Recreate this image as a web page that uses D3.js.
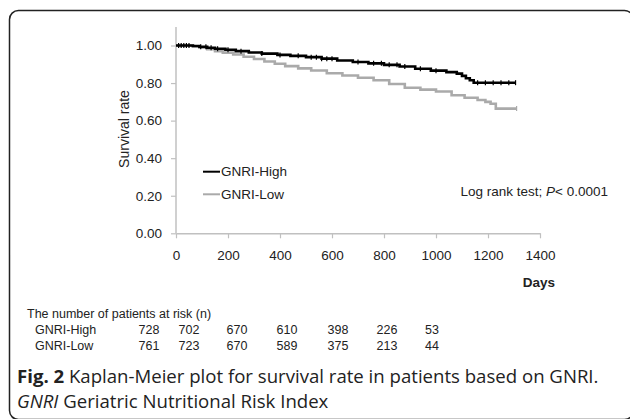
<!DOCTYPE html>
<html>
<head>
<meta charset="utf-8">
<script src="https://cdn.jsdelivr.net/npm/d3@7"></script>
<style>
  body { margin: 0; background: #fff; }
  svg { display: block; }
</style>
</head>
<body>
<div id="km_chart"></div>
<script>
// Kaplan-Meier step points (days, survival)
const highDays = [0, 65, 90, 120, 150, 190, 230, 280, 330, 390, 440, 500, 560, 620, 680, 740, 800, 860, 920, 980, 1040, 1080, 1100, 1115, 1130, 1145, 1306];
const highSurv = [1.0, 0.997, 0.993, 0.988, 0.983, 0.977, 0.970, 0.963, 0.957, 0.950, 0.945, 0.938, 0.930, 0.920, 0.912, 0.905, 0.897, 0.888, 0.876, 0.866, 0.858, 0.850, 0.838, 0.826, 0.815, 0.802, 0.802];
const lowDays = [0, 65, 90, 120, 150, 180, 220, 260, 300, 340, 380, 420, 470, 520, 580, 640, 700, 760, 820, 880, 940, 1000, 1060, 1110, 1160, 1190, 1210, 1230, 1310];
const lowSurv = [1.0, 0.995, 0.988, 0.980, 0.970, 0.962, 0.952, 0.940, 0.928, 0.915, 0.903, 0.890, 0.878, 0.867, 0.852, 0.840, 0.828, 0.815, 0.795, 0.775, 0.765, 0.755, 0.735, 0.722, 0.710, 0.700, 0.690, 0.664, 0.664];
// censor marks (days)
const highCensor = [10, 20, 30, 40, 50, 95, 115, 135, 160, 200, 250, 330, 400, 470, 520, 540, 560, 580, 600, 700, 760, 790, 820, 850, 880, 940, 1000, 1160, 1190, 1220, 1250, 1280, 1306];
const lowCensor = [1310];

const seriesNames = ["GNRI-High", "GNRI-Low"];
const riskDays = [0, 200, 400, 600, 800, 1000, 1200];
const riskHigh = [728, 702, 670, 610, 398, 226, 53];
const riskLow = [761, 723, 670, 589, 375, 213, 44];
const yTicks = [0, 0.2, 0.4, 0.6, 0.8, 1.0];
const xTicks = [0, 200, 400, 600, 800, 1000, 1200, 1400];

const W = 630, H = 419;
const svg = d3.select("#km_chart").append("svg")
  .attr("width", W).attr("height", H)
  .style("font-family", "'Liberation Sans', Arial, sans-serif");

// outer frame with rounded corners
svg.append("rect")
  .attr("x", 9.5).attr("y", 10.5)
  .attr("width", 624).attr("height", 409)
  .attr("rx", 9)
  .attr("fill", "none").attr("stroke", "#222").attr("stroke-width", 1.5);

const x = d3.scaleLinear().domain([0, 1400]).range([176, 540]);
const y = d3.scaleLinear().domain([0, 1]).range([233.3, 45.5]);

// axes
const xAxis = svg.append("g")
  .attr("transform", `translate(0, ${y(0)})`)
  .call(d3.axisBottom(x).tickValues(xTicks).tickFormat(d3.format("d")).tickSize(5).tickSizeOuter(0).tickPadding(12));
const yAxis = svg.append("g")
  .attr("transform", `translate(${x(0)}, 0)`)
  .call(d3.axisLeft(y).tickValues(yTicks).tickFormat(d3.format(".2f")).tickSize(5).tickSizeOuter(0).tickPadding(9));
yAxis.select(".domain").attr("d", `M0,${y(0)}V27`);
[xAxis, yAxis].forEach(g => {
  g.select(".domain").attr("stroke", "#c0c0c0").attr("stroke-width", 1.5);
  g.selectAll(".tick line").attr("stroke", "#c0c0c0").attr("stroke-width", 1.2);
  g.selectAll(".tick text").attr("fill", "#222").style("font-size", "13.5px")
    .style("font-family", "'Liberation Sans', Arial, sans-serif");
});

// step lines
const line = d3.line()
  .x(d => x(d[0]))
  .y(d => y(d[1]))
  .curve(d3.curveStepAfter);

const lowPts = lowDays.map((d, i) => [d, lowSurv[i]]);
const highPts = highDays.map((d, i) => [d, highSurv[i]]);

svg.append("path").attr("d", line(lowPts))
  .attr("fill", "none").attr("stroke", "#aaaaaa").attr("stroke-width", 2.6);
svg.append("path").attr("d", line(highPts))
  .attr("fill", "none").attr("stroke", "#000").attr("stroke-width", 2.6);

function survAt(days, surv, t) {
  let v = surv[0];
  for (let i = 0; i < days.length; i++) if (days[i] <= t) v = surv[i];
  return v;
}
svg.append("g").selectAll("line").data(highCensor).join("line")
  .attr("x1", d => x(d)).attr("x2", d => x(d))
  .attr("y1", d => y(survAt(highDays, highSurv, d)) - 2.5)
  .attr("y2", d => y(survAt(highDays, highSurv, d)) + 2.5)
  .attr("stroke", "#000").attr("stroke-width", 1.2);
svg.append("g").selectAll("line").data(lowCensor).join("line")
  .attr("x1", d => x(d)).attr("x2", d => x(d))
  .attr("y1", d => y(survAt(lowDays, lowSurv, d)) - 2.5)
  .attr("y2", d => y(survAt(lowDays, lowSurv, d)) + 2.5)
  .attr("stroke", "#aaaaaa").attr("stroke-width", 1.2);

// axis titles
svg.append("text")
  .attr("transform", `translate(129, 129) rotate(-90)`)
  .attr("text-anchor", "middle")
  .style("font-size", "14px").attr("fill", "#222")
  .text("Survival rate");
svg.append("text")
  .attr("x", 539).attr("y", 287)
  .attr("text-anchor", "middle")
  .style("font-size", "13.5px").style("font-weight", "bold").attr("fill", "#222")
  .text("Days");

// legend
const legendColors = ["#000", "#aaaaaa"];
const legend = svg.append("g").selectAll("g").data(seriesNames).join("g")
  .attr("transform", (d, i) => `translate(203, ${171.7 + i * 22.6})`);
legend.append("line")
  .attr("x1", 0).attr("x2", 17)
  .attr("stroke", (d, i) => legendColors[i]).attr("stroke-width", 2);
legend.append("text")
  .attr("x", 18).attr("dy", "0.35em")
  .style("font-size", "13.5px").attr("fill", "#222")
  .text(d => d);

// log rank annotation
const lr = svg.append("text")
  .attr("x", 608).attr("y", 196)
  .attr("text-anchor", "end")
  .style("font-size", "13.5px").attr("fill", "#222");
lr.append("tspan").text("Log rank test; ");
lr.append("tspan").style("font-style", "italic").text("P");
lr.append("tspan").text("< 0.0001");

// number at risk table
const riskX = d3.scaleOrdinal().domain(riskDays).range([149, 189, 237, 287, 338, 387, 432]);
svg.append("text")
  .attr("x", 27).attr("y", 318)
  .style("font-size", "12.5px").attr("fill", "#222")
  .text("The number of patients at risk (n)");
const rows = [riskHigh, riskLow];
rows.forEach((vals, r) => {
  const ry = 333.5 + r * 16;
  svg.append("text").attr("x", 35).attr("y", ry)
    .style("font-size", "12.5px").attr("fill", "#222")
    .text(seriesNames[r]);
  svg.append("g").selectAll("text").data(vals).join("text")
    .attr("x", (d, i) => riskX(riskDays[i])).attr("y", ry)
    .attr("text-anchor", "middle")
    .style("font-size", "12.5px").attr("fill", "#222")
    .text(d => d);
});

// figure caption
const cap = svg.append("text")
  .attr("x", 17).attr("y", 383)
  .style("font-family", "'Open Sans', 'Noto Sans', sans-serif")
  .style("font-size", "18.6px").attr("fill", "#222");
cap.append("tspan").style("font-weight", "bold").text("Fig. 2");
cap.append("tspan").text(" Kaplan-Meier plot for survival rate in patients based on GNRI.");
const cap2 = svg.append("text")
  .attr("x", 17).attr("y", 408)
  .style("font-family", "'Open Sans', 'Noto Sans', sans-serif")
  .style("font-size", "18.6px").attr("fill", "#222");
cap2.append("tspan").style("font-style", "italic").text("GNRI");
cap2.append("tspan").text(" Geriatric Nutritional Risk Index");
</script>
</body>
</html>
